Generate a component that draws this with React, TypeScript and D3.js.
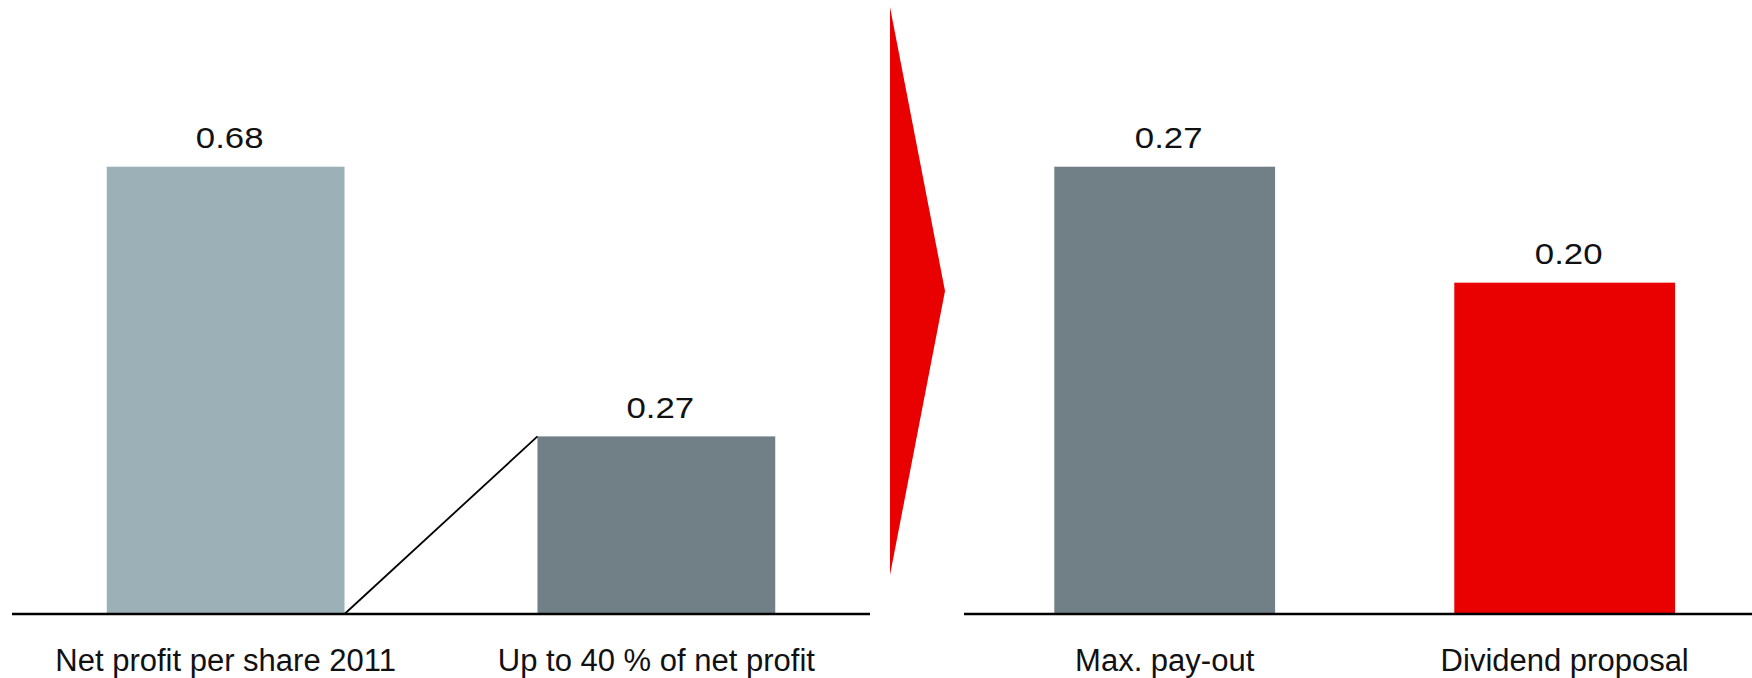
import React from "react";
import * as d3 from "d3";

// Earnings per share and the derived dividend (EUR)
const profitCategories = ["Net profit per share 2011", "Up to 40 % of net profit"];
const profitValues = [0.68, 0.27];
const profitColors = ["#9cb0b8", "#717f86"];

const payoutCategories = ["Max. pay-out", "Dividend proposal"];
const payoutValues = [0.27, 0.2];
const payoutColors = ["#717f86", "#e90000"];

const valueLabels = (v: number) => d3.format(".2f")(v);

const W = 1752;
const H = 678;
const baseY = 614;
const topY = 166.7;

const leftAxis: [number, number] = [12, 870];
const rightAxis: [number, number] = [964, 1752];

export default function App() {
  const xLeft = d3
    .scaleBand<string>()
    .domain(profitCategories)
    .range(leftAxis)
    .paddingInner(0.448)
    .paddingOuter(0.22);
  const yLeft = d3
    .scaleLinear()
    .domain([0, d3.max(profitValues) as number])
    .range([baseY, topY]);

  const xRight = d3
    .scaleBand<string>()
    .domain(payoutCategories)
    .range(rightAxis)
    .paddingInner(0.448)
    .paddingOuter(0.209)
    .align(0.54);
  const yRight = d3
    .scaleLinear()
    .domain([0, d3.max(payoutValues) as number])
    .range([baseY, topY]);

  const panels = [
    { cats: profitCategories, vals: profitValues, cols: profitColors, x: xLeft, y: yLeft, axis: leftAxis },
    { cats: payoutCategories, vals: payoutValues, cols: payoutColors, x: xRight, y: yRight, axis: rightAxis },
  ];

  // connector from the full profit bar to the pay-out share
  const c0x = (xLeft(profitCategories[0]) as number) + xLeft.bandwidth();
  const c1x = xLeft(profitCategories[1]) as number;
  const connector = d3.line()([
    [c0x, yLeft(0)],
    [c1x, yLeft(profitValues[1])],
  ]);

  // red chevron between the two panels
  const chevX = leftAxis[1] + 20;
  const chevron = d3.line()([
    [chevX, 7],
    [chevX + 55, 291],
    [chevX, 575],
  ]) + "Z";

  return (
    <svg
      width={W}
      height={H}
      style={{ position: "absolute", left: 0, top: 0, display: "block", background: "#fff" }}
      fontFamily="'Liberation Sans', Arial, Helvetica, sans-serif"
    >
      <rect width={W} height={H} fill="#fff" />
      <path d={chevron} fill="#e90000" />
      {panels.map((p, pi) => (
        <g key={pi}>
          {p.cats.map((c, i) => {
            const x = p.x(c) as number;
            const bw = p.x.bandwidth();
            const cx = x + bw / 2;
            const yv = p.y(p.vals[i]);
            return (
              <g key={c}>
                <rect x={x} y={yv} width={bw} height={baseY - yv} fill={p.cols[i]} />
                <g transform={`translate(${cx + 4},${yv - 18.5}) scale(1.2,1)`}>
                  <text textAnchor="middle" fontSize={29} fill="#111">
                    {valueLabels(p.vals[i])}
                  </text>
                </g>
                <text x={cx} y={671} textAnchor="middle" fontSize={31} fill="#111">
                  {c}
                </text>
              </g>
            );
          })}
          <line x1={p.axis[0]} x2={p.axis[1]} y1={baseY} y2={baseY} stroke="#000" strokeWidth={2.4} />
        </g>
      ))}
      <path d={connector as string} stroke="#000" strokeWidth={1.8} fill="none" />
    </svg>
  );
}
